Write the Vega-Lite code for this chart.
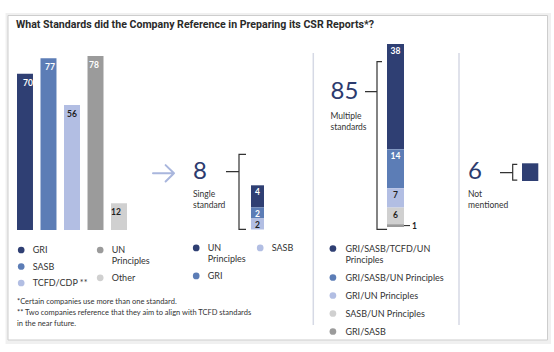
{
  "$schema": "https://vega.github.io/schema/vega-lite/v6.json",
  "width": 554,
  "height": 352,
  "autosize": {"type": "fit", "contains": "padding"},
  "padding": 0,
  "background": "white",
  "config": {"view": {"stroke": null}, "font": "Lato"},
  "datasets": {
    "standards": [
      {"standard": "GRI", "count": 70},
      {"standard": "SASB", "count": 77},
      {"standard": "TCFD/CDP **", "count": 56},
      {"standard": "UN Principles", "count": 78},
      {"standard": "Other", "count": 12}
    ],
    "single": [
      {"group": "Single standard", "standard": "UN Principles", "count": 4},
      {"group": "Single standard", "standard": "GRI", "count": 2},
      {"group": "Single standard", "standard": "SASB", "count": 2}
    ],
    "multiple": [
      {"group": "Multiple standards", "combination": "GRI/SASB/TCFD/UN Principles", "count": 38},
      {"group": "Multiple standards", "combination": "GRI/SASB/UN Principles", "count": 14},
      {"group": "Multiple standards", "combination": "GRI/UN Principles", "count": 7},
      {"group": "Multiple standards", "combination": "SASB/UN Principles", "count": 6},
      {"group": "Multiple standards", "combination": "GRI/SASB", "count": 1}
    ],
    "notMentioned": [
      {"group": "Not mentioned", "count": 6}
    ],
    "totals": [
      {"group": "Single standard", "total": 8},
      {"group": "Multiple standards", "total": 85},
      {"group": "Not mentioned", "total": 6}
    ]
  },
  "layer": [
    {
      "data": {"values": [{}]},
      "mark": {"type": "rect", "fill": "transparent", "stroke": "#000000", "strokeOpacity": 0.06, "strokeWidth": 4},
      "encoding": {"x": {"value": 7.5}, "x2": {"value": 549}, "y": {"value": 15}, "y2": {"value": 342}}
    },
    {
      "data": {"values": [{}]},
      "mark": {"type": "rect", "fill": "white", "stroke": "#cdcdcd", "strokeWidth": 1},
      "encoding": {"x": {"value": 8}, "x2": {"value": 547.5}, "y": {"value": 15.5}, "y2": {"value": 340}}
    },
    {
      "data": {"values": [{}]},
      "mark": {"type": "text", "text": "What Standards did the Company Reference in Preparing its CSR Reports*?", "font": "Roboto", "fontSize": 10.6, "fontWeight": "bold", "color": "#2a2a2a", "align": "left", "baseline": "alphabetic"},
      "encoding": {"x": {"value": 16}, "y": {"value": 28}}
    },
    {
      "data": {"values": [{}]},
      "mark": {"type": "rule", "color": "#d6d9e5", "strokeWidth": 1.5},
      "encoding": {"x": {"value": 313.3}, "y": {"value": 53}, "y2": {"value": 325}}
    },
    {
      "data": {"values": [{}]},
      "mark": {"type": "rule", "color": "#d6d9e5", "strokeWidth": 1.5},
      "encoding": {"x": {"value": 459}, "y": {"value": 53}, "y2": {"value": 325}}
    },
    {
      "data": {"name": "standards"},
      "transform": [{"filter": {"field": "standard", "oneOf": ["GRI", "SASB", "TCFD/CDP **"]}}],
      "mark": {"type": "bar"},
      "encoding": {
        "x": {"field": "standard", "type": "nominal", "axis": null, "scale": {"domain": ["GRI", "SASB", "TCFD/CDP **", "UN Principles", "Other"], "range": [17, 127], "paddingInner": 0.32, "paddingOuter": 0}},
        "y": {"field": "count", "type": "quantitative", "axis": null, "scale": {"domain": [0, 78], "range": [230, 56], "nice": false}},
        "color": {"field": "standard", "type": "nominal", "scale": {"domain": ["GRI", "SASB", "TCFD/CDP **"], "range": ["#2f3f73", "#5c7db6", "#b2bee3"]},
          "legend": {"orient": "none", "legendX": 16.7, "legendY": 245.5, "title": null, "padding": 0, "symbolType": "circle", "symbolSize": 45, "symbolStrokeWidth": 0, "labelFont": "Lato", "labelFontSize": 9, "labelColor": "#333333", "labelOffset": 7, "rowPadding": 6.5, "labelLimit": 300}}
      }
    },
    {
      "data": {"name": "standards"},
      "transform": [{"filter": {"field": "standard", "oneOf": ["UN Principles", "Other"]}}],
      "mark": {"type": "bar"},
      "encoding": {
        "x": {"field": "standard", "type": "nominal", "axis": null, "scale": {"domain": ["GRI", "SASB", "TCFD/CDP **", "UN Principles", "Other"], "range": [17, 127], "paddingInner": 0.32, "paddingOuter": 0}},
        "y": {"field": "count", "type": "quantitative", "axis": null, "scale": {"domain": [0, 78], "range": [230, 56], "nice": false}},
        "color": {"field": "standard", "type": "nominal", "scale": {"domain": ["UN Principles", "Other"], "range": ["#9b9b9b", "#d0d0d0"]},
          "legend": {"orient": "none", "legendX": 95.7, "legendY": 245.5, "title": null, "padding": 0, "symbolType": "circle", "symbolSize": 45, "symbolStrokeWidth": 0, "labelFont": "Lato", "labelFontSize": 9, "labelColor": "#333333", "labelOffset": 7, "rowPadding": 6.8, "labelLimit": 300,
            "labelExpr": "datum.label == 'UN Principles' ? ['UN', 'Principles'] : datum.label"}}
      }
    },
    {
      "data": {"name": "standards"},
      "mark": {"type": "text", "font": "Lato", "fontSize": 8.5, "fontWeight": "bold", "baseline": "middle", "align": "center", "dy": 9},
      "encoding": {
        "x": {"field": "standard", "type": "nominal", "axis": null, "bandPosition": 0.5, "scale": {"domain": ["GRI", "SASB", "TCFD/CDP **", "UN Principles", "Other"], "range": [17, 127], "paddingInner": 0.32, "paddingOuter": 0}},
        "y": {"field": "count", "type": "quantitative", "axis": null, "scale": {"domain": [0, 78], "range": [230, 56], "nice": false}},
        "text": {"field": "count", "type": "quantitative"},
        "color": {"condition": {"test": "datum.count < 60", "value": "#1f1f1f"}, "value": "white"}
      }
    },
    {
      "data": {"values": [{}]},
      "mark": {"type": "point", "shape": "M-1,0L1,0M0.2,-0.78L1,0L0.2,0.78", "filled": false, "opacity": 1, "stroke": "#a9b6dd", "strokeWidth": 2, "size": 441, "strokeCap": "round", "strokeJoin": "round"},
      "encoding": {"x": {"value": 163.5}, "y": {"value": 173.3}}
    },
    {
      "data": {"name": "totals"},
      "transform": [{"filter": "datum.group != 'Multiple standards'"}],
      "layer": [
        {
          "mark": {"type": "text", "font": "Lato", "fontSize": 24, "color": "#2c3b6e", "align": "left", "baseline": "middle"},
          "encoding": {
            "x": {"field": "group", "type": "nominal", "axis": null, "scale": {"type": "point", "domain": ["Single standard", "Multiple standards", "Not mentioned"], "range": [193, 468], "padding": 0}},
            "y": {"value": 171.5},
            "text": {"field": "total", "type": "quantitative"}
          }
        },
        {
          "mark": {"type": "text", "font": "Lato", "fontSize": 8.5, "color": "#333333", "align": "left", "baseline": "middle", "lineBreak": " ", "lineHeight": 11.3},
          "encoding": {
            "x": {"field": "group", "type": "nominal", "axis": null, "scale": {"type": "point", "domain": ["Single standard", "Multiple standards", "Not mentioned"], "range": [193, 468], "padding": 0}},
            "y": {"value": 194},
            "text": {"field": "group", "type": "nominal"}
          }
        }
      ]
    },
    {
      "data": {"name": "totals"},
      "transform": [{"filter": "datum.group == 'Multiple standards'"}],
      "layer": [
        {
          "mark": {"type": "text", "font": "Lato", "fontSize": 24, "color": "#2c3b6e", "align": "left", "baseline": "middle"},
          "encoding": {
            "x": {"field": "group", "type": "nominal", "axis": null, "scale": {"type": "point", "domain": ["Single standard", "Multiple standards", "Not mentioned"], "range": [193, 468], "padding": 0}},
            "y": {"value": 92},
            "text": {"field": "total", "type": "quantitative"}
          }
        },
        {
          "mark": {"type": "text", "font": "Lato", "fontSize": 8.5, "color": "#333333", "align": "left", "baseline": "middle", "lineBreak": " ", "lineHeight": 11.3},
          "encoding": {
            "x": {"field": "group", "type": "nominal", "axis": null, "scale": {"type": "point", "domain": ["Single standard", "Multiple standards", "Not mentioned"], "range": [193, 468], "padding": 0}},
            "y": {"value": 116},
            "text": {"field": "group", "type": "nominal"}
          }
        }
      ]
    },
    {
      "data": {"values": [{}]},
      "mark": {"type": "point", "shape": "M0.187,-1L0,-1L0,1L0.187,1M0,-0.536L-0.347,-0.536", "filled": false, "opacity": 1, "stroke": "#333333", "strokeWidth": 1.2, "size": 5625},
      "encoding": {"x": {"value": 239}, "y": {"value": 191.8}}
    },
    {
      "data": {"values": [{}]},
      "mark": {"type": "point", "shape": "M0.06,-1L0,-1L0,1L0.12,1M0,-0.642L-0.143,-0.642", "filled": false, "opacity": 1, "stroke": "#333333", "strokeWidth": 1.2, "size": 28090},
      "encoding": {"x": {"value": 377}, "y": {"value": 145.5}}
    },
    {
      "data": {"values": [{}]},
      "mark": {"type": "point", "shape": "M0.586,-1L0,-1L0,1L0.586,1M0,0.06L-1.62,0.06", "filled": false, "opacity": 1, "stroke": "#333333", "strokeWidth": 1.2, "size": 246},
      "encoding": {"x": {"value": 512.7}, "y": {"value": 172.2}}
    },
    {
      "data": {"name": "single"},
      "transform": [
        {"calculate": "indexof(['SASB', 'GRI', 'UN Principles'], datum.standard)", "as": "ord"},
        {"stack": "count", "groupby": ["group"], "sort": [{"field": "ord", "order": "ascending"}], "as": ["y0", "y1"]}
      ],
      "layer": [
        {
          "transform": [{"filter": {"field": "standard", "oneOf": ["UN Principles", "GRI"]}}],
          "mark": {"type": "bar"},
          "encoding": {
            "x": {"field": "group", "type": "nominal", "axis": null, "scale": {"range": [251, 264], "paddingInner": 0, "paddingOuter": 0}},
            "y": {"field": "y1", "type": "quantitative", "axis": null, "scale": {"domain": [0, 8], "range": [229.5, 185.3], "nice": false}},
            "y2": {"field": "y0"},
            "color": {"field": "standard", "type": "nominal", "scale": {"domain": ["UN Principles", "GRI"], "range": ["#2f3f73", "#5c7db6"]},
              "legend": {"orient": "none", "legendX": 191.7, "legendY": 243.4, "title": null, "padding": 0, "symbolType": "circle", "symbolSize": 45, "symbolStrokeWidth": 0, "labelFont": "Lato", "labelFontSize": 9, "labelColor": "#333333", "labelOffset": 7, "rowPadding": 7, "labelLimit": 300,
                "labelExpr": "datum.label == 'UN Principles' ? ['UN', 'Principles'] : datum.label"}}
          }
        },
        {
          "transform": [{"filter": {"field": "standard", "oneOf": ["SASB"]}}],
          "mark": {"type": "bar"},
          "encoding": {
            "x": {"field": "group", "type": "nominal", "axis": null, "scale": {"range": [251, 264], "paddingInner": 0, "paddingOuter": 0}},
            "y": {"field": "y1", "type": "quantitative", "axis": null, "scale": {"domain": [0, 8], "range": [229.5, 185.3], "nice": false}},
            "y2": {"field": "y0"},
            "color": {"field": "standard", "type": "nominal", "scale": {"domain": ["SASB"], "range": ["#b2bee3"]},
              "legend": {"orient": "none", "legendX": 255.7, "legendY": 243.4, "title": null, "padding": 0, "symbolType": "circle", "symbolSize": 45, "symbolStrokeWidth": 0, "labelFont": "Lato", "labelFontSize": 9, "labelColor": "#333333", "labelOffset": 7, "labelLimit": 300}}
          }
        },
        {
          "mark": {"type": "text", "font": "Lato", "fontSize": 8.5, "fontWeight": "bold", "baseline": "middle", "align": "center", "dy": 6.5},
          "encoding": {
            "x": {"field": "group", "type": "nominal", "axis": null, "bandPosition": 0.5, "scale": {"range": [251, 264], "paddingInner": 0, "paddingOuter": 0}},
            "y": {"field": "y1", "type": "quantitative", "axis": null, "scale": {"domain": [0, 8], "range": [229.5, 185.3], "nice": false}},
            "text": {"field": "count", "type": "quantitative"},
            "color": {"condition": {"test": "datum.standard == 'SASB'", "value": "#1f1f1f"}, "value": "white"}
          }
        }
      ],
      "resolve": {"scale": {"color": "independent"}, "legend": {"color": "independent"}}
    },
    {
      "data": {"name": "multiple"},
      "transform": [
        {"calculate": "indexof(['GRI/SASB', 'SASB/UN Principles', 'GRI/UN Principles', 'GRI/SASB/UN Principles', 'GRI/SASB/TCFD/UN Principles'], datum.combination)", "as": "ord"},
        {"stack": "count", "groupby": ["group"], "sort": [{"field": "ord", "order": "ascending"}], "as": ["y0", "y1"]},
        {"calculate": "(datum.y0 + datum.y1) / 2", "as": "mid"}
      ],
      "layer": [
        {
          "mark": {"type": "bar"},
          "encoding": {
            "x": {"field": "group", "type": "nominal", "axis": null, "scale": {"range": [387, 404], "paddingInner": 0, "paddingOuter": 0}},
            "y": {"field": "y1", "type": "quantitative", "axis": null, "scale": {"domain": [0, 66], "range": [227, 44], "nice": false}},
            "y2": {"field": "y0"},
            "color": {"field": "combination", "type": "nominal", "scale": {"domain": ["GRI/SASB/TCFD/UN Principles", "GRI/SASB/UN Principles", "GRI/UN Principles", "SASB/UN Principles", "GRI/SASB"], "range": ["#2f3f73", "#5c7db6", "#b2bee3", "#d0d0d0", "#9b9b9b"]},
              "legend": {"orient": "none", "legendX": 328.4, "legendY": 244, "title": null, "padding": 0, "symbolType": "circle", "symbolSize": 45, "symbolStrokeWidth": 0, "labelFont": "Lato", "labelFontSize": 9, "labelColor": "#333333", "labelOffset": 8, "rowPadding": 8, "labelLimit": 300,
                "labelExpr": "datum.label == 'GRI/SASB/TCFD/UN Principles' ? ['GRI/SASB/TCFD/UN', 'Principles'] : datum.label"}}
          }
        },
        {
          "transform": [{"filter": "datum.count > 1"}],
          "mark": {"type": "text", "font": "Lato", "fontSize": 8.5, "fontWeight": "bold", "baseline": "middle", "align": "center", "dy": 7},
          "encoding": {
            "x": {"field": "group", "type": "nominal", "axis": null, "bandPosition": 0.5, "scale": {"range": [387, 404], "paddingInner": 0, "paddingOuter": 0}},
            "y": {"field": "y1", "type": "quantitative", "axis": null, "scale": {"domain": [0, 66], "range": [227, 44], "nice": false}},
            "text": {"field": "count", "type": "quantitative"},
            "color": {"condition": {"test": "datum.count < 10", "value": "#1f1f1f"}, "value": "white"}
          }
        },
        {
          "transform": [{"filter": "datum.count == 1"}],
          "mark": {"type": "rule", "color": "#222222", "strokeWidth": 1},
          "encoding": {
            "x": {"field": "group", "type": "nominal", "axis": null, "bandPosition": 1, "scale": {"range": [387, 404], "paddingInner": 0, "paddingOuter": 0}},
            "x2": {"value": 410},
            "y": {"field": "mid", "type": "quantitative", "axis": null, "scale": {"domain": [0, 66], "range": [227, 44], "nice": false}}
          }
        },
        {
          "transform": [{"filter": "datum.count == 1"}],
          "mark": {"type": "text", "font": "Lato", "fontSize": 8.5, "fontWeight": "bold", "baseline": "middle", "align": "left", "dx": 8, "color": "#1f1f1f"},
          "encoding": {
            "x": {"field": "group", "type": "nominal", "axis": null, "bandPosition": 1, "scale": {"range": [387, 404], "paddingInner": 0, "paddingOuter": 0}},
            "y": {"field": "mid", "type": "quantitative", "axis": null, "scale": {"domain": [0, 66], "range": [227, 44], "nice": false}},
            "text": {"field": "count", "type": "quantitative"}
          }
        }
      ]
    },
    {
      "data": {"name": "notMentioned"},
      "mark": {"type": "bar", "color": "#2f3f73"},
      "encoding": {
        "x": {"field": "group", "type": "nominal", "axis": null, "scale": {"range": [522, 538.3], "paddingInner": 0, "paddingOuter": 0}},
        "y": {"field": "count", "type": "quantitative", "axis": null, "scale": {"domain": [0, 6], "range": [181, 163.3], "nice": false}}
      }
    },
    {
      "data": {"values": [{}]},
      "mark": {"type": "text", "font": "Lato", "fontSize": 7.5, "color": "#333333", "align": "left", "baseline": "middle", "lineHeight": 11.3,
        "text": ["\u00a0*Certain companies use more than one standard.", "** Two companies reference that they aim to align with TCFD standards", "\u00a0\u00a0\u00a0in the near future."]},
      "encoding": {"x": {"value": 17}, "y": {"value": 301.7}}
    }
  ],
  "resolve": {"scale": {"x": "independent", "y": "independent", "color": "independent"}, "legend": {"color": "independent"}}
}
